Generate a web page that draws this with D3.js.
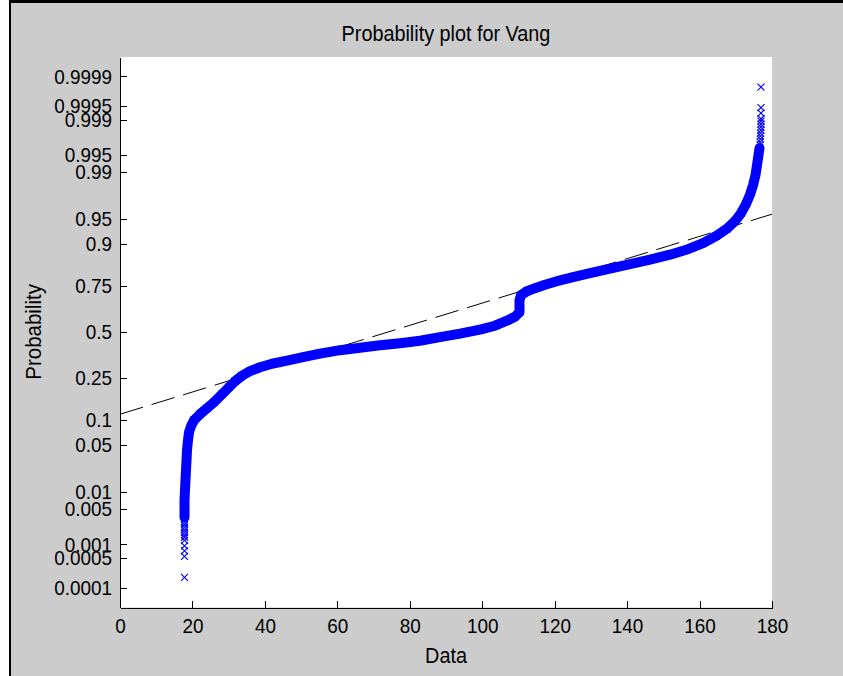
<!DOCTYPE html>
<html lang="en">
<head>
<meta charset="UTF-8">
<title>Probability plot for Vang</title>
<style>
  body { margin: 0; background: #fff; }
  svg { display: block; }
  text { font-family: "Liberation Sans", Arial, sans-serif; fill: #000; }
  .axis text { font-size: 21px; }
  .axis path, .axis line { stroke: #000; stroke-width: 1; shape-rendering: crispEdges; }
</style>
</head>
<body>
<div id="chart"></div>
<script src="https://cdnjs.cloudflare.com/ajax/libs/d3/7.8.5/d3.min.js"></script>
<script>
// sorted sample values (Vang) and the normal quantile of their plotting position
var values = [
  17.81, 17.81, 17.81, 17.81, 17.81, 17.81, 17.81, 17.81, 17.81, 17.81,
  17.81, 17.81, 17.81, 17.81, 17.81, 17.81, 17.94, 18.08, 18.22, 18.36,
  18.50, 18.77, 19.05, 19.60, 20.43, 22.09, 24.02, 25.95, 28.16, 30.09,
  31.75, 33.68, 35.89, 38.65, 41.96, 46.10, 50.52, 55.21, 60.74, 66.26,
  71.78, 77.30, 82.82, 88.34, 93.86, 99.38, 103.52, 106.84, 109.05, 110.29,
  110.29, 110.29, 110.70, 112.35, 114.56, 117.33, 120.64, 125.06, 129.75, 135.27,
  140.80, 146.32, 151.84, 156.81, 160.95, 164.54, 167.58, 169.78, 171.44, 172.82,
  173.93, 174.75, 175.44, 175.86, 176.27, 176.55, 176.69, 176.69, 176.82, 176.82,
  176.82, 176.96, 176.96, 176.96, 176.96, 176.96, 176.96, 176.96, 176.96
];
var quantiles = [
  -3.571, -3.265, -3.185, -3.112, -3.032, -2.988, -2.952, -2.916, -2.879, -2.843,
  -2.806, -2.770, -2.734, -2.697, -2.595, -2.450, -2.304, -2.159, -2.013, -1.868,
  -1.722, -1.576, -1.460, -1.373, -1.285, -1.197, -1.110, -1.023, -0.906, -0.804,
  -0.718, -0.638, -0.572, -0.514, -0.463, -0.419, -0.368, -0.317, -0.266, -0.230,
  -0.194, -0.164, -0.128, -0.077, -0.026, 0.032, 0.090, 0.163, 0.221, 0.287,
  0.374, 0.461, 0.534, 0.592, 0.636, 0.687, 0.738, 0.796, 0.854, 0.920,
  0.985, 1.051, 1.124, 1.204, 1.291, 1.393, 1.502, 1.611, 1.728, 1.859,
  1.997, 2.135, 2.281, 2.426, 2.572, 2.674, 2.718, 2.761, 2.805, 2.849,
  2.892, 2.936, 2.980, 3.023, 3.067, 3.103, 3.183, 3.263, 3.562
];

// dashed reference line, end points
var lineX = [0, 180];
var lineQ = [-1.198, 1.713];

var xTicks = [0, 20, 40, 60, 80, 100, 120, 140, 160, 180];
var yTicks = [0.0001, 0.0005, 0.001, 0.005, 0.01, 0.05, 0.1, 0.25, 0.5, 0.75, 0.9, 0.95, 0.99, 0.995, 0.999, 0.9995, 0.9999];
var yTickLabels = ["0.0001", "0.0005", "0.001", "0.005", "0.01", "0.05", "0.1", "0.25", "0.5", "0.75", "0.9", "0.95", "0.99", "0.995", "0.999", "0.9995", "0.9999"];

// inverse of the standard normal cdf (Acklam)
function probit(p) {
  var a = [-39.69683028665376, 220.9460984245205, -275.9285104469687, 138.3577518672690, -30.66479806614716, 2.506628277459239];
  var b = [-54.47609879822406, 161.5858368580409, -155.6989798598866, 66.80131188771972, -13.28068155288572];
  var c = [-0.007784894002430293, -0.3223964580411365, -2.400758277161838, -2.549732539343734, 4.374664141464968, 2.938163982698783];
  var d = [0.007784695709041462, 0.3224671290700398, 2.445134137142996, 3.754408661907416];
  var pl = 0.02425, q, r;
  if (p < pl) {
    q = Math.sqrt(-2 * Math.log(p));
    return (((((c[0]*q+c[1])*q+c[2])*q+c[3])*q+c[4])*q+c[5]) / ((((d[0]*q+d[1])*q+d[2])*q+d[3])*q+1);
  }
  if (p > 1 - pl) {
    q = Math.sqrt(-2 * Math.log(1 - p));
    return -(((((c[0]*q+c[1])*q+c[2])*q+c[3])*q+c[4])*q+c[5]) / ((((d[0]*q+d[1])*q+d[2])*q+d[3])*q+1);
  }
  q = p - 0.5; r = q * q;
  return (((((a[0]*r+a[1])*r+a[2])*r+a[3])*r+a[4])*r+a[5])*q / (((((b[0]*r+b[1])*r+b[2])*r+b[3])*r+b[4])*r+1);
}

// squeeze text a bit, the original font is narrower than Liberation Sans
function narrow(sel, f) {
  sel.each(function() {
    var w = this.getComputedTextLength();
    d3.select(this).attr("textLength", w * f).attr("lengthAdjust", "spacingAndGlyphs");
  });
}

var W = 843, H = 676;
var margin = {left: 120, right: 71, top: 57, bottom: 68.5};

var svg = d3.select("#chart").append("svg")
  .attr("width", W)
  .attr("height", H);

// window frame
svg.append("rect").attr("width", W).attr("height", H).attr("fill", "#fff");
svg.append("rect").attr("x", 10).attr("y", 2).attr("width", W - 10).attr("height", H - 2).attr("fill", "#cccccc");
svg.append("rect").attr("x", 9).attr("y", 0).attr("width", 2).attr("height", H).attr("fill", "#000");
svg.append("rect").attr("x", 9).attr("y", 0).attr("width", W - 9).attr("height", 3).attr("fill", "#000");

var x = d3.scaleLinear().domain([0, 180]).range([margin.left, W - margin.right]);
var y = d3.scaleLinear().domain([-4.01, 4.0]).range([H - margin.bottom, margin.top]);

svg.append("rect")
  .attr("x", x(0)).attr("y", y(4.0))
  .attr("width", x(180) - x(0)).attr("height", y(-4.01) - y(4.0))
  .attr("fill", "#fff");

var xAxis = svg.append("g")
  .attr("class", "axis")
  .attr("transform", "translate(0," + (H - margin.bottom) + ")")
  .call(d3.axisBottom(x).tickValues(xTicks).tickSizeInner(-7).tickSizeOuter(0).tickPadding(11));

var yAxis = svg.append("g")
  .attr("class", "axis")
  .attr("transform", "translate(" + margin.left + ",0)")
  .call(d3.axisLeft(y).tickValues(yTicks.map(probit)).tickSizeInner(-7).tickSizeOuter(0).tickPadding(8)
    .tickFormat(function(d, i) { return yTickLabels[i]; }));

svg.selectAll(".axis text").attr("fill", "#000");
narrow(svg.selectAll(".axis text"), 0.9);

// reference line
svg.append("line")
  .attr("x1", x(lineX[0])).attr("y1", y(lineQ[0]))
  .attr("x2", x(lineX[1])).attr("y2", y(lineQ[1]))
  .attr("stroke", "#000")
  .attr("stroke-width", 1)
  .attr("stroke-dasharray", "24,9");

var pts = values.map(function(v, i) { return {v: v, q: quantiles[i]}; });

// dense middle part: markers overlap into a solid band
var band = pts.filter(function(d) { return Math.abs(d.q) < 2.7; });
svg.append("path")
  .datum(band)
  .attr("fill", "none")
  .attr("stroke", "#0000ff")
  .attr("stroke-width", 10)
  .attr("stroke-linejoin", "round")
  .attr("stroke-linecap", "round")
  .attr("d", d3.line().x(function(d) { return x(d.v); }).y(function(d) { return y(d.q); }));

var s = 3.5;
svg.append("g").selectAll("path")
  .data(pts)
  .enter().append("path")
  .attr("transform", function(d) { return "translate(" + x(d.v) + "," + y(d.q) + ")"; })
  .attr("d", "M" + (-s) + "," + (-s) + "L" + s + "," + s + "M" + (-s) + "," + s + "L" + s + "," + (-s))
  .attr("stroke", "#0000ff")
  .attr("stroke-width", 1.1)
  .attr("fill", "none");

// labels
var title = svg.append("text")
  .attr("x", (x(0) + x(180)) / 2).attr("y", 41)
  .attr("text-anchor", "middle")
  .style("font-size", "22px")
  .text("Probability plot for Vang");

var xLabel = svg.append("text")
  .attr("x", (x(0) + x(180)) / 2).attr("y", 663)
  .attr("text-anchor", "middle")
  .style("font-size", "22px")
  .text("Data");

var yLabel = svg.append("text")
  .attr("transform", "translate(41," + y(0) + ") rotate(-90)")
  .attr("text-anchor", "middle")
  .style("font-size", "22px")
  .text("Probability");

narrow(title, 0.9);
narrow(xLabel, 0.9);
narrow(yLabel, 0.93);
</script>
</body>
</html>
